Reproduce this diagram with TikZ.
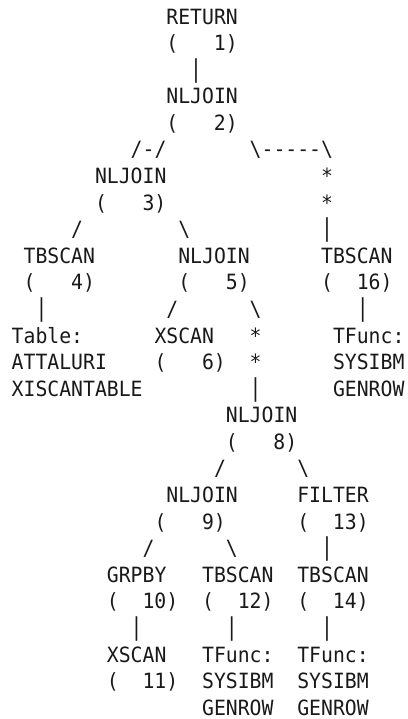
\documentclass[tikz,border=0pt]{standalone}
\usepackage{fontspec}
\usepackage{graphicx}
\setmonofont[FakeStretch=0.9414]{DejaVu Sans Mono}
\usepackage{tikz}

\newlength{\cw}
\setlength{\cw}{11.9pt}
\newcommand{\opno}[1]{\hbox to 6\cw{(\hfill #1)}}
\newcommand{\vbar}{\scalebox{1}[1.17]{|}}
\newcommand{\bsl}{\textbackslash}

\begin{document}
\begin{tikzpicture}[x=11.9pt, y=-26.58pt,
  plan/.style={anchor=base west, inner sep=0pt, text=black!90,
    font=\ttfamily\fontsize{21}{26.6}\selectfont}]

  \useasboundingbox (0,0) rectangle (407pt,-719pt);

  \begin{scope}[shift={(11.5pt,2.48pt)}, every node/.style={plan}]

  % RETURN and top join
  \node (ret)    at (13, 1) {RETURN};
  \node (ret-id) at (13, 2) {\opno{1}};
  \node (e1)     at (15, 3) {\vbar};
  \node (nl2)    at (13, 4) {NLJOIN};
  \node (nl2-id) at (13, 5) {\opno{2}};
  \node (e2a)    at (10, 6) {/-/};
  \node (e2b)    at (20, 6) {\bsl-{}-{}-{}-{}-\bsl};

  % second level
  \node (nl3)    at (7, 7) {NLJOIN};
  \node (st1)    at (26, 7) {*};
  \node (nl3-id) at (7, 8) {\opno{3}};
  \node (st2)    at (26, 8) {*};
  \node (e3a)    at (5, 9) {/};
  \node (e3b)    at (14, 9) {\bsl};
  \node (e16)    at (26, 9) {\vbar};

  \node (tb4)     at (1, 10) {TBSCAN};
  \node (nl5)     at (14, 10) {NLJOIN};
  \node (tb16)    at (26, 10) {TBSCAN};
  \node (tb4-id)  at (1, 11) {\opno{4}};
  \node (nl5-id)  at (14, 11) {\opno{5}};
  \node (tb16-id) at (26, 11) {\opno{16}};
  \node (e4)      at (2, 12) {\vbar};
  \node (e5a)     at (13, 12) {/};
  \node (e5b)     at (20, 12) {\bsl};
  \node (e16b)    at (29, 12) {\vbar};

  % table and functions
  \node (tab)    at (0, 13) {Table:};
  \node (xs6)    at (12, 13) {XSCAN};
  \node (st3)    at (20, 13) {*};
  \node (tf16)   at (27, 13) {TFunc:};
  \node (tab-s)  at (0, 14) {ATTALURI};
  \node (xs6-id) at (12, 14) {\opno{6}};
  \node (st4)    at (20, 14) {*};
  \node (tf16-s) at (27, 14) {SYSIBM};
  \node (tab-n)  at (0, 15) {XISCANTABLE};
  \node (e8)     at (20, 15) {\vbar};
  \node (tf16-n) at (27, 15) {GENROW};

  % lower join
  \node (nl8)     at (18, 16) {NLJOIN};
  \node (nl8-id)  at (18, 17) {\opno{8}};
  \node (e8a)     at (17, 18) {/};
  \node (e8b)     at (24, 18) {\bsl};
  \node (nl9)     at (13, 19) {NLJOIN};
  \node (fl13)    at (24, 19) {FILTER};
  \node (nl9-id)  at (12, 20) {\opno{9}};
  \node (fl13-id) at (24, 20) {\opno{13}};
  \node (e9a)     at (11, 21) {/};
  \node (e9b)     at (18, 21) {\bsl};
  \node (e13)     at (26, 21) {\vbar};

  \node (gb10)    at (8, 22) {GRPBY};
  \node (tb12)    at (16, 22) {TBSCAN};
  \node (tb14)    at (24, 22) {TBSCAN};
  \node (gb10-id) at (8, 23) {\opno{10}};
  \node (tb12-id) at (16, 23) {\opno{12}};
  \node (tb14-id) at (24, 23) {\opno{14}};
  \node (e10)     at (10, 24) {\vbar};
  \node (e12)     at (18, 24) {\vbar};
  \node (e14)     at (26, 24) {\vbar};

  \node (xs11)    at (8, 25) {XSCAN};
  \node (tf12)    at (16, 25) {TFunc:};
  \node (tf14)    at (24, 25) {TFunc:};
  \node (xs11-id) at (8, 26) {\opno{11}};
  \node (tf12-s)  at (16, 26) {SYSIBM};
  \node (tf14-s)  at (24, 26) {SYSIBM};
  \node (tf12-n)  at (16, 27) {GENROW};
  \node (tf14-n)  at (24, 27) {GENROW};

  \end{scope}

\end{tikzpicture}
\end{document}
